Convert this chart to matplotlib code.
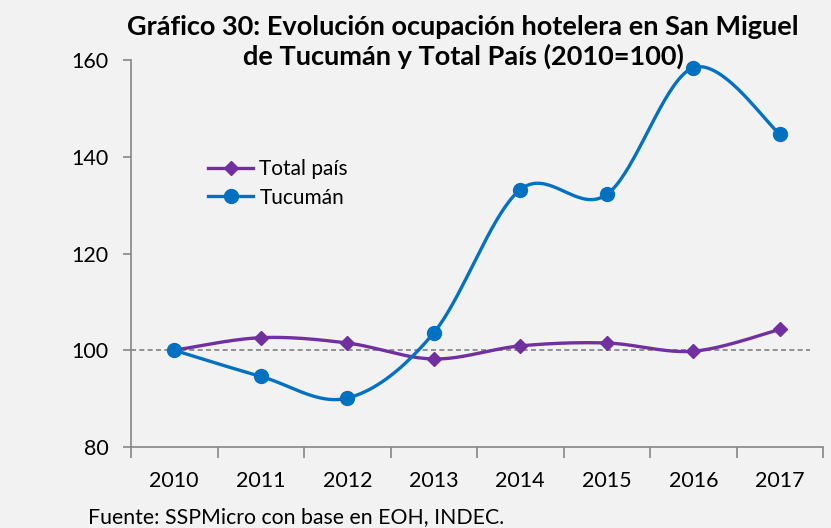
import numpy as np
import matplotlib
matplotlib.use("Agg")
import matplotlib.pyplot as plt
from matplotlib.lines import Line2D

plt.rcParams['font.family'] = ['Lato', 'DejaVu Sans']

years = ["2010", "2011", "2012", "2013", "2014", "2015", "2016", "2017"]
total_pais = [100.0, 102.6, 101.5, 98.2, 100.9, 101.5, 99.8, 104.3]
tucuman = [100.0, 94.6, 90.1, 103.6, 133.2, 132.2, 158.4, 144.7]
y_ticks = [80, 100, 120, 140, 160]

PURPLE = "#7030A0"
BLUE = "#0070C0"
BG = "#F2F2F2"


def smooth(xs, ys, n=40):
    """Bezier smoothing through every point (Catmull-Rom style control points)."""
    xs = np.asarray(xs, float)
    ys = np.asarray(ys, float)
    px = np.concatenate([[xs[0]], xs, [xs[-1]]])
    py = np.concatenate([[ys[0]], ys, [ys[-1]]])
    out_x, out_y = [], []
    t = np.linspace(0, 1, n)
    for i in range(1, len(xs)):
        p0 = np.array([px[i], py[i]])
        p3 = np.array([px[i + 1], py[i + 1]])
        c1 = p0 + (p3 - np.array([px[i - 1], py[i - 1]])) / 6.0
        c2 = p3 - (np.array([px[i + 2], py[i + 2]]) - p0) / 6.0
        b = ((1 - t) ** 3)[:, None] * p0 + (3 * (1 - t) ** 2 * t)[:, None] * c1 \
            + (3 * (1 - t) * t ** 2)[:, None] * c2 + (t ** 3)[:, None] * p3
        out_x.extend(b[:, 0])
        out_y.extend(b[:, 1])
    return np.array(out_x), np.array(out_y)


fig = plt.figure(figsize=(8.31, 5.28), dpi=100, facecolor=BG)
ax = fig.add_axes([131 / 831, 1 - 447 / 528, (823 - 131) / 831, (447 - 60) / 528])
ax.set_facecolor(BG)

x = np.arange(len(years))
ax.axhline(100, xmin=0, xmax=0.981, color="#808080", lw=1.2, ls=(0, (3, 2)), zorder=1)

sx, sy = smooth(x, total_pais)
ax.plot(sx, sy, color=PURPLE, lw=2.4, zorder=3)
ax.plot(x, total_pais, ls="none", marker="D", ms=7.5, color=PURPLE, zorder=4)

sx, sy = smooth(x, tucuman)
ax.plot(sx, sy, color=BLUE, lw=2.4, zorder=3)
ax.plot(x, tucuman, ls="none", marker="o", ms=10, color=BLUE, zorder=4)

ax.set_xlim(-0.5, len(years) - 0.5)
ax.set_ylim(80, 160)
ax.set_yticks(y_ticks)
ax.set_xticks(np.arange(-0.5, len(years)), minor=False)
ax.set_xticklabels([])
ax.set_xticks(x, minor=True)
ax.set_xticklabels(years, minor=True)
ax.tick_params(axis="x", which="major", length=8, width=1.2, color="#868686", direction="out")
ax.tick_params(axis="x", which="minor", length=0, pad=17, labelsize=15.5)
ax.tick_params(axis="y", length=6, width=1.2, color="#868686", direction="out", pad=10, labelsize=15.5)

for side in ("top", "right"):
    ax.spines[side].set_visible(False)
for side in ("left", "bottom"):
    ax.spines[side].set_color("#868686")
    ax.spines[side].set_linewidth(1.2)

handles = [
    Line2D([], [], color=PURPLE, lw=2.4, marker="D", ms=7.5),
    Line2D([], [], color=BLUE, lw=2.4, marker="o", ms=10),
]
fig.legend(handles, ["Total país", "Tucumán"], loc="upper left",
           bbox_to_anchor=(198 / 831, 1 - 149 / 528), frameon=False,
           fontsize=15, handlelength=2.15, handletextpad=0.3, labelspacing=0.4,
           borderpad=0)

fig.text(463 / 831, 1 - 27 / 528, "Gráfico 30: Evolución ocupación hotelera en San Miguel",
         ha="center", va="center", fontsize=19.5, fontweight="bold")
fig.text(463 / 831, 1 - 56 / 528, "de Tucumán y Total País (2010=100)",
         ha="center", va="center", fontsize=19.5, fontweight="bold")
fig.text(88 / 831, 1 - 517 / 528, "Fuente: SSPMicro con base en EOH, INDEC.",
         ha="left", va="center", fontsize=15.3)

fig.savefig("out.png", dpi=100, facecolor=BG)
